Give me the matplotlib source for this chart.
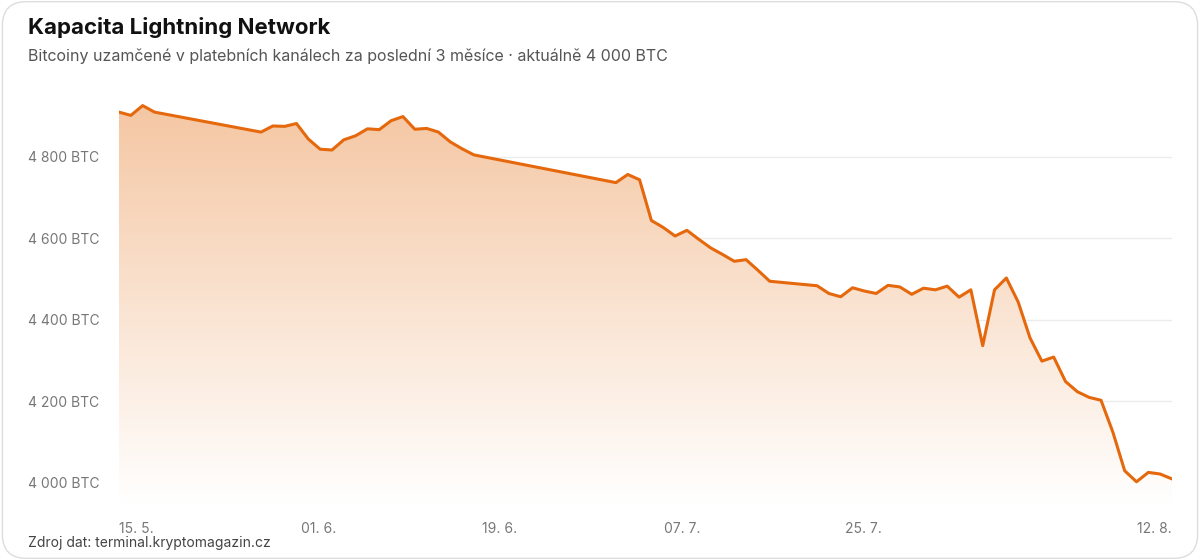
import matplotlib
matplotlib.use("Agg")
import matplotlib.pyplot as plt
import numpy as np
from matplotlib.patches import FancyBboxPatch, Polygon
from matplotlib.colors import LinearSegmentedColormap

days = [0,1,2,3,12,13,14,15,16,17,18,19,20,21,22,23,24,25,26,27,28,29,30,
        42,43,44,45,46,47,48,49,50,51,52,53,54,55,59,60,61,62,63,64,65,66,67,68,69,70,
        71,72,73,74,75,76,77,78,79,80,81,82,83,84,85,86,87,88,89]
values = [4910,4902,4926,4910,4861,4876,4875,4882,4844,4819,4817,4842,4852,4869,4867,4889,4899,4868,4870,4861,4837,4820,4805,
          4737,4757,4744,4644,4627,4606,4620,4598,4577,4561,4544,4548,4522,4495,4484,4465,4457,4479,4471,4465,4485,4481,4463,4478,4474,4483,
          4456,4474,4337,4474,4503,4444,4356,4299,4309,4249,4224,4210,4203,4125,4030,4003,4026,4022,4010]
tick_labels = ["15. 5.", "01. 6.", "19. 6.", "07. 7.", "25. 7.", "12. 8."]
tick_pos = [0, 15.35, 30.7, 46.05, 61.4, 89]
yticks = [4000, 4200, 4400, 4600, 4800]

plt.rcParams['font.family'] = ['Inter', 'DejaVu Sans']
fig = plt.figure(figsize=(12, 5.6), dpi=100)
card = FancyBboxPatch((0.002, 0.003), 0.996, 0.994, boxstyle="round,pad=0,rounding_size=0.02",
                      transform=fig.transFigure, fc="white", ec="#dddddd", lw=1, mutation_aspect=12/5.6, zorder=-10)
fig.patches.append(card)
fig.text(28/1200, 1-28/560, "Kapacita Lightning Network", fontsize=16, fontweight="bold", color="#111111", va="center")
fig.text(28/1200, 1-56/560, "Bitcoiny uzamčené v platebních kanálech za poslední 3 měsíce · aktuálně 4 000 BTC",
         fontsize=11.5, color="#555555", va="center")
fig.text(28/1200, 1-543/560, "Zdroj dat: terminal.kryptomagazin.cz", fontsize=10, color="#444444", va="center")

ax = fig.add_axes([119/1200, 1-505/560, (1172-119)/1200, (505-95)/560])
ax.set_zorder(1)
ymin, ymax = 3946, 4952
ax.set_xlim(0, 89)
ax.set_ylim(ymin, ymax)
ax.patch.set_alpha(0)
for s in ax.spines.values():
    s.set_visible(False)
for y in yticks:
    ax.axhline(y, color="#ececec", lw=1, zorder=0)
ax.set_yticks(yticks)
ax.set_yticklabels([f"{y//1000} {y%1000:03d} BTC" for y in yticks], fontsize=10, color="#777777")
ax.tick_params(axis="y", length=0, pad=14)
ax.set_xticks(tick_pos)
ax.set_xticklabels(tick_labels, fontsize=10, color="#777777")
ax.tick_params(axis="x", length=0, pad=12)
for i, lab in enumerate(ax.get_xticklabels()):
    lab.set_ha("left" if i < len(tick_labels) - 1 else "right")

grad = np.linspace(0, 1, 256).reshape(-1, 1)
cmap = LinearSegmentedColormap.from_list("g", [(1, 1, 1, 1), (0.96, 0.78, 0.64, 1)])
im = ax.imshow(grad, aspect="auto", cmap=cmap, origin="lower",
               extent=[0, 89, ymin, max(values)], zorder=1)
verts = [(days[0], ymin)] + list(zip(days, values)) + [(days[-1], ymin)]
poly = Polygon(verts, closed=True, fc="none", ec="none", transform=ax.transData)
ax.add_patch(poly)
im.set_clip_path(poly)
ax.set_xlim(0, 89)
ax.set_ylim(ymin, ymax)
ax.plot(days, values, color="#e5680c", lw=2.2, zorder=3)
fig.savefig("out.png", dpi=100)
